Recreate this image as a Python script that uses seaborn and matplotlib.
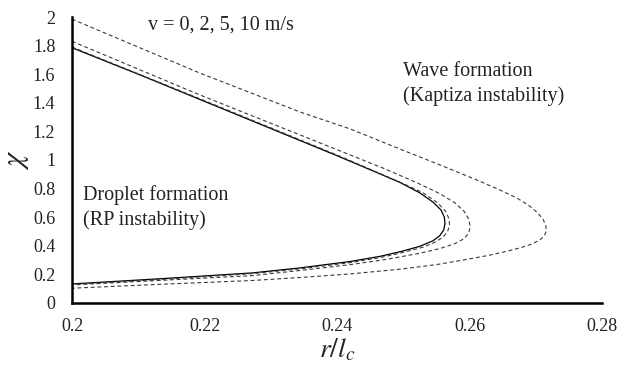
import matplotlib
matplotlib.use("Agg")
import matplotlib.pyplot as plt
import seaborn as sns
import pandas as pd

# Curves: r/l_c (x) and chi (y), traced from upper branch through nose to lower branch
r_v0 = [0.200, 0.210, 0.220, 0.230, 0.240, 0.245, 0.2495, 0.2525, 0.2545, 0.2557, 0.2562, 0.2563, 0.2561,
        0.2555, 0.2545, 0.2525, 0.2495, 0.2465, 0.2420, 0.2344, 0.2272, 0.2136, 0.200]
chi_v0 = [1.785, 1.600, 1.410, 1.220, 1.030, 0.932, 0.843, 0.770, 0.705, 0.650, 0.600, 0.555, 0.510,
          0.470, 0.435, 0.396, 0.358, 0.326, 0.290, 0.245, 0.210, 0.170, 0.133]

r_v2 = [0.200, 0.220, 0.240, 0.2495, 0.2530, 0.2552, 0.2564, 0.2569, 0.2570, 0.2567, 0.2560, 0.2548, 0.2530,
        0.2495, 0.2465, 0.2420, 0.2344, 0.2272, 0.2136, 0.200]
chi_v2 = [1.790, 1.415, 1.035, 0.845, 0.770, 0.700, 0.640, 0.590, 0.545, 0.500, 0.460, 0.425, 0.390,
          0.348, 0.317, 0.282, 0.238, 0.205, 0.165, 0.130]

r_v5 = [0.200, 0.2193, 0.2420, 0.2469, 0.2521, 0.2555, 0.2578, 0.2592, 0.2599, 0.2601, 0.2599, 0.2592, 0.2578,
        0.2555, 0.2525, 0.2495, 0.2465, 0.2420, 0.2344, 0.2272, 0.200]
chi_v5 = [1.830, 1.455, 1.035, 0.944, 0.840, 0.765, 0.700, 0.640, 0.585, 0.535, 0.490, 0.450, 0.415,
          0.380, 0.348, 0.322, 0.298, 0.268, 0.227, 0.191, 0.126]

r_v10 = [0.200, 0.2193, 0.2344, 0.2420, 0.2491, 0.2560, 0.2610, 0.2645, 0.2672, 0.2690, 0.2703, 0.2711, 0.2715,
         0.2716, 0.2713, 0.2706, 0.2694, 0.2677, 0.2655, 0.2628, 0.2596, 0.2550, 0.2495, 0.2420, 0.2344,
         0.2272, 0.2136, 0.200]
chi_v10 = [1.985, 1.608, 1.336, 1.217, 1.084, 0.957, 0.862, 0.792, 0.733, 0.680, 0.630, 0.585, 0.545,
           0.505, 0.470, 0.440, 0.412, 0.386, 0.360, 0.332, 0.305, 0.268, 0.236, 0.203, 0.178,
           0.157, 0.131, 0.103]

curves = {"0": (r_v0, chi_v0), "2": (r_v2, chi_v2), "5": (r_v5, chi_v5), "10": (r_v10, chi_v10)}

x_ticks = [0.2, 0.22, 0.24, 0.26, 0.28]
x_tick_labels = ["0.2", "0.22", "0.24", "0.26", "0.28"]
y_ticks = [0, 0.2, 0.4, 0.6, 0.8, 1.0, 1.2, 1.4, 1.6, 1.8, 2.0]
y_tick_labels = ["0", "0.2", "0.4", "0.6", "0.8", "1", "1.2", "1.4", "1.6", "1.8", "2"]

sns.set_style("white")
plt.rcParams["font.family"] = ["Liberation Serif", "DejaVu Serif"]
plt.rcParams["mathtext.fontset"] = "stix"

fig = plt.figure(figsize=(6.17, 3.65), dpi=100)
ax = fig.add_axes([0.1167, 0.170, 0.859, 0.7834])

for v, (rr, cc) in curves.items():
    df = pd.DataFrame({"r": rr, "chi": cc})
    if v == "0":
        sns.lineplot(data=df, x="r", y="chi", sort=False, estimator=None, ax=ax,
                     color="black", linewidth=0.9)
    else:
        sns.lineplot(data=df, x="r", y="chi", sort=False, estimator=None, ax=ax,
                     color="#3a3a3a", linewidth=0.8, linestyle=(0, (3.5, 2.5)))

ax.set_xlim(0.2, 0.28)
ax.set_ylim(0, 2)
ax.set_xticks(x_ticks)
ax.set_xticklabels(x_tick_labels)
ax.set_yticks(y_ticks)
ax.set_yticklabels(y_tick_labels)
ax.tick_params(axis="x", direction="out", length=4, width=1.2, labelsize=13, pad=7, colors="black")
ax.tick_params(axis="y", length=0, labelsize=13, pad=12, colors="black")
for lab in ax.get_xticklabels() + ax.get_yticklabels():
    lab.set_color("#222222")

for s in ["top", "right"]:
    ax.spines[s].set_visible(False)
for s in ["left", "bottom"]:
    ax.spines[s].set_linewidth(1.8)
    ax.spines[s].set_color("black")

ax.set_xlabel(r"$r/l_c$", fontsize=20, labelpad=1)
ax.set_ylabel(r"$\chi$", fontsize=22)
ax.yaxis.set_label_coords(-0.078, 0.5)

ax.text(0.2114, 1.945, "v = 0, 2, 5, 10 m/s", fontsize=14.5, ha="left", va="center", color="#222222")
ax.text(0.2500, 1.53, "Wave formation\n(Kaptiza instability)", fontsize=14.5, ha="left", va="center",
        color="#222222", linespacing=1.35)
ax.text(0.2016, 0.67, "Droplet formation\n(RP instability)", fontsize=14.5, ha="left", va="center",
        color="#222222", linespacing=1.35)

fig.savefig("out.png", dpi=100)
